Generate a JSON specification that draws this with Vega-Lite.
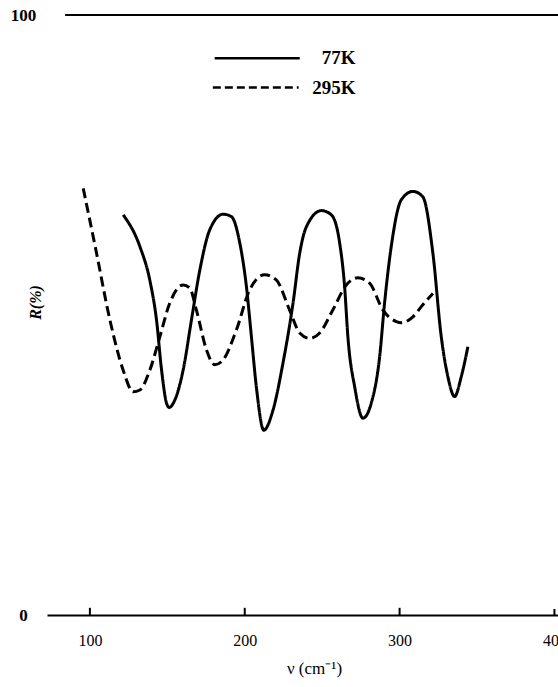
{
  "$schema": "https://vega.github.io/schema/vega-lite/v6.json",
  "autosize": "none",
  "width": 511,
  "height": 600,
  "padding": {"left": 47, "top": 15, "right": 0, "bottom": 72},
  "background": "white",
  "config": {"view": {"stroke": null}, "font": "Liberation Serif"},
  "datasets": {
    "curves": [
      {"series": "295K", "v": 95.7, "R": 71.1},
      {"series": "295K", "v": 104.3, "R": 60.3},
      {"series": "295K", "v": 112.9, "R": 49.2},
      {"series": "295K", "v": 121.5, "R": 40.8},
      {"series": "295K", "v": 127.9, "R": 37.2},
      {"series": "295K", "v": 132.3, "R": 37.5},
      {"series": "295K", "v": 138.7, "R": 40.8},
      {"series": "295K", "v": 145.2, "R": 46.4},
      {"series": "295K", "v": 151.6, "R": 52.0},
      {"series": "295K", "v": 160.2, "R": 55.0},
      {"series": "295K", "v": 164.5, "R": 54.5},
      {"series": "295K", "v": 168.8, "R": 50.8},
      {"series": "295K", "v": 175.3, "R": 44.2},
      {"series": "295K", "v": 180.6, "R": 41.7},
      {"series": "295K", "v": 186.0, "R": 42.5},
      {"series": "295K", "v": 194.6, "R": 47.5},
      {"series": "295K", "v": 203.2, "R": 54.2},
      {"series": "295K", "v": 212.9, "R": 56.7},
      {"series": "295K", "v": 220.5, "R": 55.8},
      {"series": "295K", "v": 229.0, "R": 50.8},
      {"series": "295K", "v": 235.5, "R": 47.0},
      {"series": "295K", "v": 241.9, "R": 46.1},
      {"series": "295K", "v": 248.4, "R": 47.0},
      {"series": "295K", "v": 256.8, "R": 50.8},
      {"series": "295K", "v": 265.6, "R": 55.0},
      {"series": "295K", "v": 273.1, "R": 56.2},
      {"series": "295K", "v": 280.6, "R": 55.3},
      {"series": "295K", "v": 289.3, "R": 50.8},
      {"series": "295K", "v": 297.9, "R": 48.9},
      {"series": "295K", "v": 301.1, "R": 48.7},
      {"series": "295K", "v": 308.6, "R": 49.7},
      {"series": "295K", "v": 315.0, "R": 51.7},
      {"series": "295K", "v": 321.5, "R": 53.6},
      {"series": "77K", "v": 121.5, "R": 66.7},
      {"series": "77K", "v": 132.3, "R": 61.4},
      {"series": "77K", "v": 138.7, "R": 55.8},
      {"series": "77K", "v": 143.0, "R": 49.2},
      {"series": "77K", "v": 146.3, "R": 40.8},
      {"series": "77K", "v": 149.5, "R": 35.3},
      {"series": "77K", "v": 151.2, "R": 34.6},
      {"series": "77K", "v": 154.8, "R": 35.8},
      {"series": "77K", "v": 160.2, "R": 40.8},
      {"series": "77K", "v": 165.6, "R": 49.2},
      {"series": "77K", "v": 171.0, "R": 57.5},
      {"series": "77K", "v": 177.4, "R": 64.2},
      {"series": "77K", "v": 186.0, "R": 66.8},
      {"series": "77K", "v": 191.4, "R": 66.4},
      {"series": "77K", "v": 196.8, "R": 62.0},
      {"series": "77K", "v": 201.1, "R": 54.7},
      {"series": "77K", "v": 204.3, "R": 46.4},
      {"series": "77K", "v": 207.5, "R": 38.0},
      {"series": "77K", "v": 212.3, "R": 30.8},
      {"series": "77K", "v": 218.3, "R": 34.2},
      {"series": "77K", "v": 224.7, "R": 42.0},
      {"series": "77K", "v": 231.2, "R": 52.0},
      {"series": "77K", "v": 235.5, "R": 60.3},
      {"series": "77K", "v": 239.8, "R": 64.7},
      {"series": "77K", "v": 249.5, "R": 67.4},
      {"series": "77K", "v": 255.9, "R": 66.7},
      {"series": "77K", "v": 261.3, "R": 62.0},
      {"series": "77K", "v": 264.5, "R": 54.7},
      {"series": "77K", "v": 266.6, "R": 46.4},
      {"series": "77K", "v": 271.0, "R": 38.0},
      {"series": "77K", "v": 276.3, "R": 32.8},
      {"series": "77K", "v": 281.7, "R": 35.3},
      {"series": "77K", "v": 287.1, "R": 43.0},
      {"series": "77K", "v": 290.3, "R": 52.0},
      {"series": "77K", "v": 294.6, "R": 61.4},
      {"series": "77K", "v": 301.1, "R": 69.2},
      {"series": "77K", "v": 308.6, "R": 70.6},
      {"series": "77K", "v": 315.0, "R": 69.7},
      {"series": "77K", "v": 321.5, "R": 60.3},
      {"series": "77K", "v": 326.9, "R": 46.4},
      {"series": "77K", "v": 331.2, "R": 39.7},
      {"series": "77K", "v": 335.5, "R": 36.4},
      {"series": "77K", "v": 339.8, "R": 39.7},
      {"series": "77K", "v": 344.1, "R": 44.7}
    ],
    "legend": [
      {"series": "77K", "v": 180.6, "v2": 235.5, "R": 92.8, "labelR": 92.8, "labelV": 271.6},
      {"series": "295K", "v": 179.4, "v2": 234.8, "R": 87.9, "labelR": 87.8, "labelV": 271.6}
    ],
    "frame": [
      {"v": 84, "v2": 402.3, "R": 100}
    ],
    "ticks": [
      {"v": 100, "R": 0, "R2": 1.2},
      {"v": 200, "R": 0, "R2": 1.2},
      {"v": 300, "R": 0, "R2": 1.2},
      {"v": 400, "R": 0, "R2": 1.0}
    ]
  },
  "layer": [
    {
      "data": {"name": "frame"},
      "mark": {"type": "rule", "color": "black", "strokeWidth": 2},
      "encoding": {
        "x": {"field": "v", "type": "quantitative", "scale": {"domain": [72.3, 402.3], "zero": false, "nice": false},
          "axis": {
            "values": [100, 200, 300, 400],
            "domain": true, "domainColor": "black", "domainWidth": 2.2,
            "ticks": false, "tickSize": 0,
            "grid": false,
            "labelFont": "Liberation Serif", "labelFontSize": 16, "labelColor": "black",
            "labelPadding": 17, "labelBaseline": "top",
            "title": "ν (cm⁻¹)", "titleFont": "Liberation Serif", "titleFontSize": 17, "titleFontWeight": "normal",
            "titleColor": "black", "titleX": 267, "titleY": 53, "titleBaseline": "middle", "titleAnchor": null, "titleAlign": "center"
          }},
        "x2": {"field": "v2"},
        "y": {"field": "R", "type": "quantitative", "scale": {"domain": [0, 100], "nice": false},
          "axis": {
            "values": [0, 100], "domain": false, "ticks": false, "tickSize": 0, "grid": false,
            "labelFont": "Liberation Serif", "labelFontSize": 17, "labelFontWeight": "bold", "labelColor": "black",
            "labelAlign": "center", "labelPadding": 24, "labelBaseline": "middle",
            "title": "R(%)", "titleFont": "Liberation Serif", "titleFontSize": 16, "titleFontWeight": "bold", "titleFontStyle": "italic",
            "titleColor": "black", "titleAngle": -90, "titleX": -12, "titleY": 287, "titleAlign": "center", "titleBaseline": "middle"
          }}
      }
    },
    {
      "data": {"name": "ticks"},
      "mark": {"type": "rule", "color": "black", "strokeWidth": 2},
      "encoding": {
        "x": {"field": "v", "type": "quantitative"},
        "y": {"field": "R", "type": "quantitative"},
        "y2": {"field": "R2"}
      }
    },
    {
      "data": {"name": "curves"},
      "mark": {"type": "line", "color": "black", "strokeWidth": 3, "interpolate": "monotone"},
      "encoding": {
        "x": {"field": "v", "type": "quantitative"},
        "y": {"field": "R", "type": "quantitative"},
        "detail": {"field": "series"},
        "strokeDash": {"field": "series", "type": "nominal", "scale": {"domain": ["77K", "295K"], "range": [[1, 0], [10, 5]]}, "legend": null}
      }
    },
    {
      "data": {"name": "legend"},
      "mark": {"type": "rule", "color": "black", "strokeWidth": 2.5},
      "encoding": {
        "x": {"field": "v", "type": "quantitative"},
        "x2": {"field": "v2"},
        "y": {"field": "R", "type": "quantitative"},
        "strokeDash": {"field": "series", "type": "nominal", "scale": {"domain": ["77K", "295K"], "range": [[1, 0], [8, 4]]}, "legend": null}
      }
    },
    {
      "data": {"name": "legend"},
      "mark": {"type": "text", "align": "right", "baseline": "middle", "font": "Liberation Serif", "fontSize": 19, "fontWeight": "bold", "color": "black"},
      "encoding": {
        "x": {"field": "labelV", "type": "quantitative"},
        "y": {"field": "labelR", "type": "quantitative"},
        "text": {"field": "series"}
      }
    }
  ],
  "resolve": {"scale": {"strokeDash": "independent"}}
}
